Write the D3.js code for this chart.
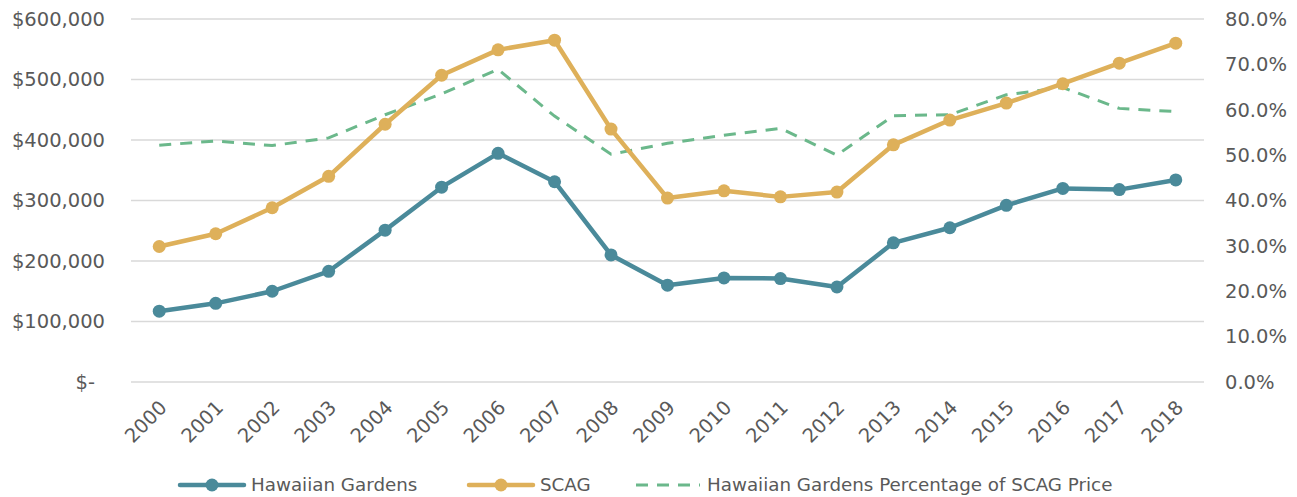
<!DOCTYPE html>
<html>
<head>
<meta charset="utf-8">
<script src="https://cdn.jsdelivr.net/npm/d3@7"></script>
<style>
  html, body { margin: 0; padding: 0; background: #fff; }
  svg text { font-family: "DejaVu Sans", "Liberation Sans", sans-serif; fill: #595959; }
</style>
</head>
<body>
<div id="chart"></div>
<script>
// datos
const years = ['2000','2001','2002','2003','2004','2005','2006','2007','2008','2009',
               '2010','2011','2012','2013','2014','2015','2016','2017','2018'];
const hawaiianGardens = [117000, 130000, 150000, 183000, 251000, 322000, 378000, 331000, 210000, 160000,
                         172000, 171000, 157000, 230000, 255000, 292000, 320000, 318000, 334000];
const scag = [224000, 245000, 288000, 340000, 426000, 507000, 549000, 565000, 418000, 304000,
              316000, 306000, 314000, 392000, 433000, 461000, 493000, 527000, 560000];
const pctOfScag = [0.522, 0.531, 0.521, 0.538, 0.589, 0.635, 0.689, 0.586, 0.502, 0.526,
                   0.544, 0.559, 0.500, 0.587, 0.589, 0.633, 0.649, 0.603, 0.596];
const leftTicks = [0, 100000, 200000, 300000, 400000, 500000, 600000];
const rightTicks = [0, 0.1, 0.2, 0.3, 0.4, 0.5, 0.6, 0.7, 0.8];
const seriesNames = ['Hawaiian Gardens', 'SCAG', 'Hawaiian Gardens Percentage of SCAG Price'];

const W = 1297, H = 497;
const margin = { top: 19, right: 93, bottom: 115, left: 131 };
const width = W - margin.left - margin.right;
const height = H - margin.top - margin.bottom;

const colorHG = '#4a8a9a';
const colorSCAG = '#deb05a';
const colorPct = '#6bb88b';

const svg = d3.select('#chart').append('svg')
  .attr('width', W)
  .attr('height', H);

const g = svg.append('g')
  .attr('transform', `translate(${margin.left},${margin.top})`);

const x = d3.scaleBand()
  .domain(years)
  .range([0, width]);

const y = d3.scaleLinear().domain([0, 600000]).range([height, 0]);
const y2 = d3.scaleLinear().domain([0, 0.8]).range([height, 0]);

// líneas de cuadrícula
g.append('g')
  .selectAll('line')
  .data(leftTicks)
  .join('line')
  .attr('x1', 0)
  .attr('x2', width)
  .attr('y1', d => y(d))
  .attr('y2', d => y(d))
  .attr('stroke', '#d9d9d9')
  .attr('stroke-width', 1.5);

// eje izquierdo
const fmt = d3.format(',.0f');
g.append('g')
  .selectAll('text')
  .data(leftTicks)
  .join('text')
  .attr('x', d => d === 0 ? -36 : -26)
  .attr('y', d => y(d))
  .attr('dy', '0.35em')
  .attr('text-anchor', 'end')
  .style('font-size', '19.5px')
  .text(d => d === 0 ? '$-' : `$${fmt(d)}`);

// eje derecho
const pfmt = d3.format('.1%');
g.append('g')
  .selectAll('text')
  .data(rightTicks)
  .join('text')
  .attr('x', width + 21)
  .attr('y', d => y2(d))
  .attr('dy', '0.35em')
  .attr('text-anchor', 'start')
  .style('font-size', '19.5px')
  .text(d => pfmt(d));

// etiquetas del eje X
const cx = d => x(d) + x.bandwidth() / 2;
g.append('g')
  .selectAll('text')
  .data(years)
  .join('text')
  .attr('transform', d => `translate(${cx(d) + 4},${height + 22}) rotate(-45)`)
  .attr('text-anchor', 'end')
  .attr('dy', '0.35em')
  .style('font-size', '19.5px')
  .text(d => d);

// línea de porcentaje (discontinua)
const linePct = d3.line()
  .x((d, i) => cx(years[i]))
  .y(d => y2(d));

g.append('path')
  .datum(pctOfScag)
  .attr('fill', 'none')
  .attr('stroke', colorPct)
  .attr('stroke-width', 3)
  .attr('stroke-dasharray', '12,9')
  .attr('d', linePct);

const lineVal = d3.line()
  .x((d, i) => cx(years[i]))
  .y(d => y(d));

function drawSeries(data, color) {
  g.append('path')
    .datum(data)
    .attr('fill', 'none')
    .attr('stroke', color)
    .attr('stroke-width', 4.5)
    .attr('stroke-linejoin', 'round')
    .attr('d', lineVal);
  g.append('g')
    .selectAll('circle')
    .data(data)
    .join('circle')
    .attr('cx', (d, i) => cx(years[i]))
    .attr('cy', d => y(d))
    .attr('r', 6.5)
    .attr('fill', color);
}

drawSeries(scag, colorSCAG);
drawSeries(hawaiianGardens, colorHG);

// leyenda
const legendY = 485;
const legendItems = [
  { name: seriesNames[0], color: colorHG, x: 180, marker: true, dash: null, w: 4.5 },
  { name: seriesNames[1], color: colorSCAG, x: 469, marker: true, dash: null, w: 4.5 },
  { name: seriesNames[2], color: colorPct, x: 636, marker: false, dash: '12,9', w: 3 }
];
const legend = svg.append('g');
legendItems.forEach(it => {
  const lg = legend.append('g');
  lg.append('line')
    .attr('x1', it.x).attr('x2', it.x + 64)
    .attr('y1', legendY).attr('y2', legendY)
    .attr('stroke', it.color)
    .attr('stroke-width', it.w)
    .attr('stroke-linecap', it.dash ? 'butt' : 'round')
    .attr('stroke-dasharray', it.dash);
  if (it.marker) {
    lg.append('circle')
      .attr('cx', it.x + 32).attr('cy', legendY)
      .attr('r', 6.5).attr('fill', it.color);
  }
  lg.append('text')
    .attr('x', it.x + 71)
    .attr('y', legendY)
    .attr('dy', '0.35em')
    .style('font-size', '18.3px')
    .text(it.name);
});
</script>
</body>
</html>
